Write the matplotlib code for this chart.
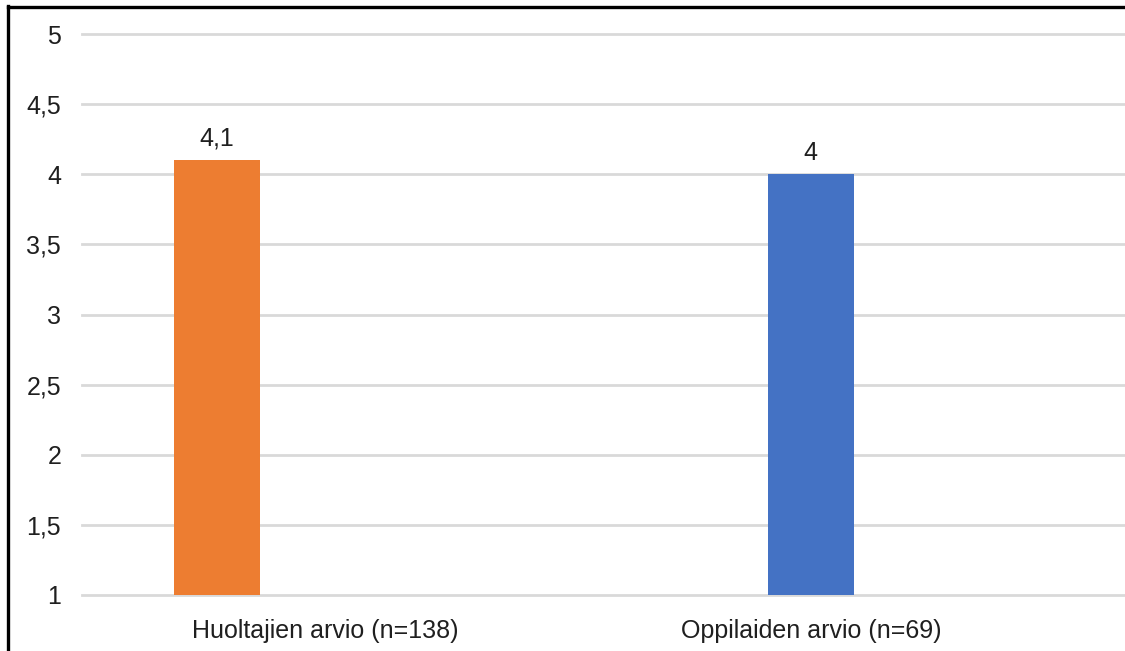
import numpy as np
import matplotlib
matplotlib.use("Agg")
import matplotlib.pyplot as plt
from matplotlib.lines import Line2D
from matplotlib.ticker import FuncFormatter

# Arvioiden keskiarvot
categories = ["Huoltajien arvio (n=138)", "Oppilaiden arvio (n=69)"]
values = [4.1, 4.0]
colors = ["#ED7D31", "#4472C4"]
y_ticks = [1, 1.5, 2, 2.5, 3, 3.5, 4, 4.5, 5]


def fi_number(v, pos=None):
    s = f"{v:g}"
    return s.replace(".", ",")


plt.rcParams["font.family"] = ["Liberation Sans", "DejaVu Sans"]
text_color = "#1f1f1f"
fs = 18

fig = plt.figure(figsize=(11.25, 6.51), dpi=100, facecolor="white")
ax = fig.add_axes([82 / 1125, 56 / 651, (1125 - 82) / 1125, (595 - 34) / 651])

bar_x = np.array([0.0, 1.0])
label_x = np.array([0.182, 1.0])
bars = ax.bar(bar_x, values, width=0.145, color=colors, bottom=0, zorder=3)

ax.set_ylim(1, 5)
ax.set_xlim(-0.227, 1.529)
ax.set_yticks(y_ticks)
ax.yaxis.set_major_formatter(FuncFormatter(fi_number))
ax.set_xticks(label_x)
ax.set_xticklabels(categories)

ax.grid(axis="y", color="#D9D9D9", linewidth=2)
for gl in ax.get_ygridlines():
    gl.set_clip_on(False)
ax.set_axisbelow(True)
for s in ax.spines.values():
    s.set_visible(False)
ax.tick_params(axis="y", length=0, pad=15, labelsize=fs, labelcolor=text_color)
ax.tick_params(axis="x", length=0, pad=17, labelsize=fs, labelcolor=text_color)

# arvot pylväiden päälle
for b, v in zip(bars, values):
    ax.annotate(fi_number(v), (b.get_x() + b.get_width() / 2, v),
                xytext=(0, 7), textcoords="offset points",
                ha="center", va="bottom", fontsize=fs, color=text_color)

# kehys vasemmalle ja ylös
fig.add_artist(Line2D([7.5 / 1125, 7.5 / 1125], [0, 1 - 6 / 651],
                      transform=fig.transFigure, color="black", linewidth=2.4))
fig.add_artist(Line2D([7.5 / 1125, 1], [1 - 6.5 / 651, 1 - 6.5 / 651],
                      transform=fig.transFigure, color="black", linewidth=2.4))

fig.savefig("out.png", dpi=100, facecolor="white")
